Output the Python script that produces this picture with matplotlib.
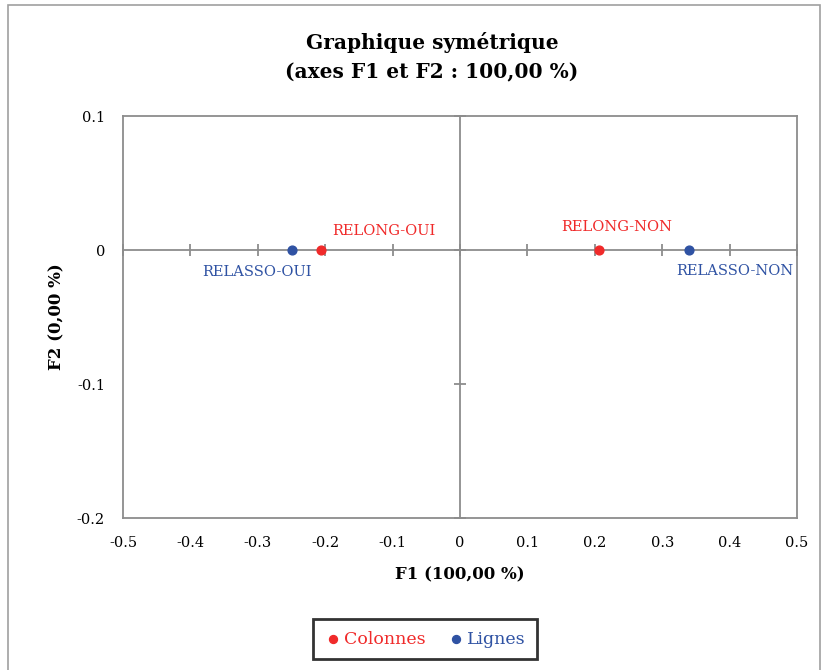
import matplotlib.pyplot as plt
from matplotlib.patches import Rectangle

# Coordonnées factorielles (F1, F2)
col_labels = ["RELONG-OUI", "RELONG-NON"]
col_f1 = [-0.206, 0.206]
col_f2 = [0.0, 0.0]

row_labels = ["RELASSO-OUI", "RELASSO-NON"]
row_f1 = [-0.249, 0.340]
row_f2 = [0.0, 0.0]

x_ticks = [-0.5, -0.4, -0.3, -0.2, -0.1, 0, 0.1, 0.2, 0.3, 0.4, 0.5]
y_ticks = [-0.2, -0.1, 0, 0.1]

red = "#f02a2a"
blue = "#2f52a3"
gray = "#8c8c8c"

plt.rcParams['font.family'] = ['DejaVu Serif']

fig = plt.figure(figsize=(8.27, 6.70), dpi=100)
pos = [123 / 827, 1 - 518 / 670, (797 - 123) / 827, (518 - 116) / 670]
ax = fig.add_axes(pos)

ax.scatter(col_f1, col_f2, color=red, s=40, zorder=5, label="Colonnes")
ax.scatter(row_f1, row_f2, color=blue, s=40, zorder=5, label="Lignes")

# étiquettes des points
ax.annotate(col_labels[0], (col_f1[0], col_f2[0]), xytext=(8, 14), textcoords="offset points",
            color=red, fontsize=10.5, ha="left", va="center")
ax.annotate(col_labels[1], (col_f1[1], col_f2[1]), xytext=(13, 16.5), textcoords="offset points",
            color=red, fontsize=10.5, ha="center", va="center")
ax.annotate(row_labels[0], (row_f1[0], row_f2[0]), xytext=(-25, -16), textcoords="offset points",
            color=blue, fontsize=10.5, ha="center", va="center")
ax.annotate(row_labels[1], (row_f1[1], row_f2[1]), xytext=(33, -15), textcoords="offset points",
            color=blue, fontsize=10.5, ha="center", va="center")

ax.set_xlim(-0.5, 0.5)
ax.set_ylim(-0.2, 0.1)
ax.set_xticks(x_ticks)
ax.set_yticks(y_ticks)
ax.set_xticklabels(["0" if v == 0 else f"{v:g}" for v in x_ticks])
ax.set_yticklabels(["0" if v == 0 else f"{v:g}" for v in y_ticks])
ax.tick_params(length=0, labelsize=10.5)
ax.tick_params(axis="x", pad=13)
ax.tick_params(axis="y", pad=13)
for s in ax.spines.values():
    s.set_color(gray)
    s.set_linewidth(1.3)

fig.text(432 / 827, 1 - 57 / 670, "Graphique symétrique\n(axes F1 et F2 : 100,00 %)",
         fontsize=14.5, fontweight="bold", ha="center", va="center", linespacing=1.55)
ax.set_xlabel("F1 (100,00 %)", fontsize=12, fontweight="bold", labelpad=12)
ax.set_ylabel("F2 (0,00 %)", fontsize=12, fontweight="bold", labelpad=8)

# axes passant par l'origine
ax0 = fig.add_axes(pos, sharex=ax, sharey=ax)
ax0.patch.set_visible(False)
ax0.spines["left"].set_position(("data", 0))
ax0.spines["bottom"].set_position(("data", 0))
ax0.spines["top"].set_visible(False)
ax0.spines["right"].set_visible(False)
for s in ("left", "bottom"):
    ax0.spines[s].set_color(gray)
    ax0.spines[s].set_linewidth(1.3)
ax0.tick_params(direction="inout", length=8, width=1.3, color=gray,
                labelleft=False, labelbottom=False)
ax0.set_zorder(ax.get_zorder() - 1)
ax.patch.set_visible(False)

leg = ax.legend(loc="center", bbox_to_anchor=(425 / 827, 1 - 639 / 670),
                bbox_transform=fig.transFigure, ncol=2, fontsize=12.5, frameon=True,
                fancybox=False, handletextpad=0.1, handlelength=1.0, columnspacing=1.3,
                borderpad=0.65, markerscale=0.9, labelcolor="markerfacecolor")
leg.get_frame().set_edgecolor("black")
leg.get_frame().set_linewidth(2)

fig.patches.append(Rectangle((8 / 827, -0.01), (820 - 8) / 827, 1 - 5 / 670 + 0.01,
                             transform=fig.transFigure, fill=False, edgecolor="#a0a0a0",
                             linewidth=1.2))

fig.savefig("out.png", dpi=100)
